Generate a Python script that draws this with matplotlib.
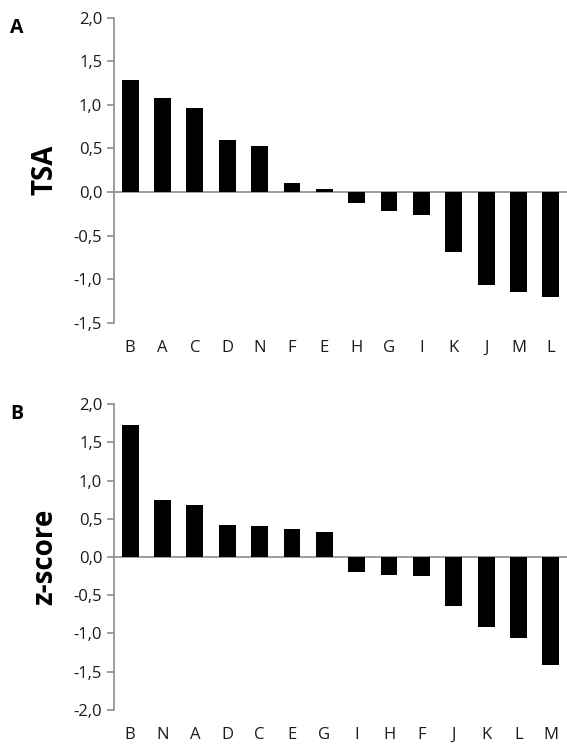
import numpy as np
import matplotlib
matplotlib.use("Agg")
import matplotlib.pyplot as plt
from matplotlib import ticker

plt.rcParams['font.family'] = ['Open Sans', 'DejaVu Sans']

# panel A
tsa_labels = ["B", "A", "C", "D", "N", "F", "E", "H", "G", "I", "K", "J", "M", "L"]
tsa_values = [1.29, 1.08, 0.96, 0.60, 0.53, 0.10, 0.03, -0.12, -0.22, -0.26, -0.69, -1.06, -1.15, -1.20]

# panel B
z_labels = ["B", "N", "A", "D", "C", "E", "G", "I", "H", "F", "J", "K", "L", "M"]
z_values = [1.73, 0.75, 0.68, 0.42, 0.40, 0.37, 0.33, -0.20, -0.23, -0.25, -0.64, -0.91, -1.06, -1.41]

axis_grey = "#8c8c8c"


def comma(y, pos):
    return "{0:.1f}".format(y).replace(".", ",")


def draw_panel(ax, labels, values, ylim, ylabel):
    x = np.arange(len(labels))
    ax.bar(x, values, width=0.52, color="black", zorder=3)
    ax.axhline(0, color=axis_grey, lw=1.2, zorder=2)
    ax.set_xlim(-0.5, len(labels) - 0.5)
    ax.set_ylim(*ylim)
    ax.yaxis.set_major_locator(ticker.MultipleLocator(0.5))
    ax.yaxis.set_major_formatter(ticker.FuncFormatter(comma))
    ax.set_xticks(x)
    ax.set_xticklabels(labels)
    for side in ["top", "right", "bottom"]:
        ax.spines[side].set_visible(False)
    ax.spines["left"].set_color(axis_grey)
    ax.spines["left"].set_linewidth(1.2)
    ax.tick_params(axis="y", colors=axis_grey, length=5, width=1.2, labelsize=12, labelcolor="#1a1a1a")
    ax.tick_params(axis="x", length=0, pad=12, labelsize=12, labelcolor="#1a1a1a")
    ax.set_ylabel(ylabel, fontsize=20, fontweight="bold", labelpad=10)


fig = plt.figure(figsize=(5.67, 7.49), dpi=100)
ax1 = fig.add_axes([0.201, 0.5688, 0.799, 0.4077])
ax2 = fig.add_axes([0.201, 0.0521, 0.799, 0.4085])

draw_panel(ax1, tsa_labels, tsa_values, (-1.5, 2.0), "TSA")
draw_panel(ax2, z_labels, z_values, (-2.0, 2.0), "z-score")

fig.text(0.018, 0.962, "A", fontsize=14, fontweight="bold", va="center")
fig.text(0.018, 0.447, "B", fontsize=14, fontweight="bold", va="center")

plt.savefig("out.png", dpi=100)
